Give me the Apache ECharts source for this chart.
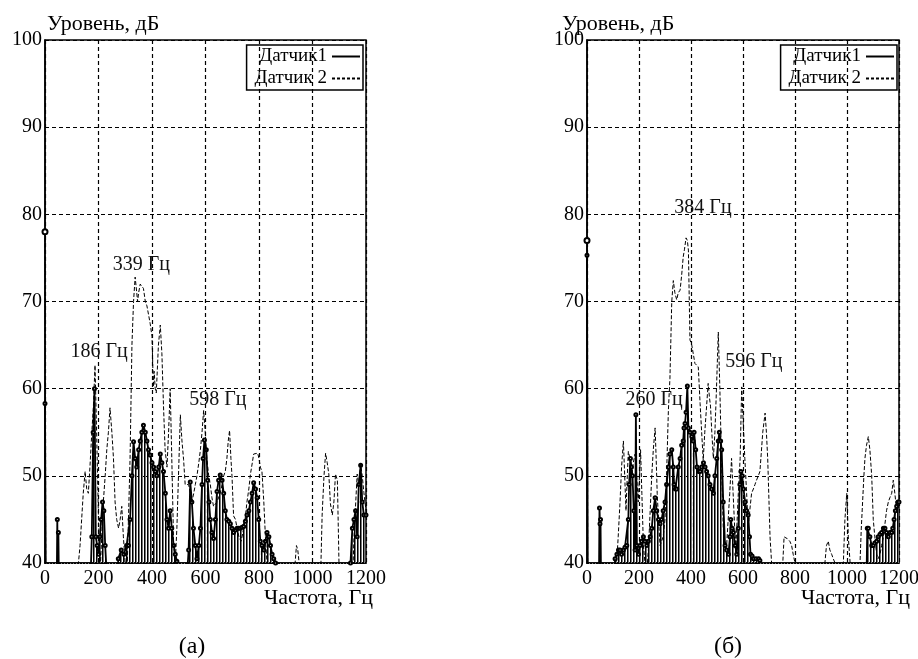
<!DOCTYPE html>
<html>
<head>
<meta charset="utf-8">
<script src="https://cdn.jsdelivr.net/npm/echarts@6/dist/echarts.min.js"></script>
<style>
  html, body { margin: 0; padding: 0; background: #fff; }
  #chart { width: 918px; height: 659px; }
</style>
</head>
<body>
<div id="chart"></div>
<script>
// (а) Датчик1 — сплошная линия со штриховкой
const freqA1 = [0, 3, 44, 46, 48, 50, 52, 170, 175, 180, 185, 190, 195, 200, 205, 210, 215, 220, 225, 232,
  270, 274, 285, 295, 305, 312, 318, 325, 331, 337, 343, 350, 356, 362, 368, 375, 381, 387, 393, 400,
  406, 412, 418, 425, 431, 437, 443, 450, 456, 462, 468, 474, 481, 487, 493, 499, 530, 537, 543, 549,
  555, 562, 568, 575, 581, 587, 591, 596, 603, 608, 613, 618, 624, 630, 637, 643, 649, 655, 662, 668,
  674, 680, 687, 693, 699, 705, 712, 718, 724, 730, 737, 743, 749, 755, 762, 768, 774, 780, 787, 793,
  799, 805, 811, 818, 824, 830, 837, 843, 849, 855, 862, 868, 1138, 1142, 1149, 1155, 1161, 1167, 1173, 1180,
  1186, 1192, 1200];
const levelA1 = [58.3, 38, 38, 45, 38, 43.5, 38, 38, 43, 55, 60, 43, 42, 41, 43, 45, 47, 46, 42, 38,
  38, 40.5, 41.5, 41, 42, 42, 45, 50, 53.9, 52, 51, 53, 54, 55, 55.8, 55, 54, 53, 52.4, 51.5,
  51, 50.5, 50, 51, 52.5, 51.5, 50.5, 48, 45, 44, 46, 44, 42, 41, 40.2, 38, 38, 41.5, 49.3, 47,
  44, 42, 40.5, 42, 44, 49, 52, 54.1, 53, 49.5, 47, 45, 43.5, 42.8, 45, 48.2, 49.5, 50.1, 49.5, 48,
  46, 45, 44.8, 44.5, 44, 43.5, 43.8, 44, 44, 44, 44.1, 44.2, 44.8, 45.5, 46, 47, 48, 49.2, 48.5, 47.5,
  45, 42.5, 42, 41.5, 42.5, 43.5, 43, 42, 41, 40.5, 40, 38, 38, 40, 44, 45, 46, 43, 49, 51.2,
  47, 45.5, 45.5];

// (а) Датчик 2 — пунктир
const freqA2 = [0, 3, 120, 125, 131, 137, 143, 150, 156, 162, 168, 175, 181, 187, 193, 200, 206, 212, 218, 225,
  231, 237, 243, 250, 256, 262, 268, 275, 281, 287, 293, 300, 306, 312, 318, 325, 331, 337, 343, 346,
  350, 356, 362, 368, 375, 381, 387, 393, 400, 405, 408, 412, 416, 424, 431, 437, 443, 449, 456, 462,
  468, 474, 481, 487, 493, 499, 506, 512, 518, 524, 530, 537, 543, 549, 556, 562, 568, 575, 581, 587,
  593, 599, 605, 612, 618, 624, 630, 637, 643, 649, 655, 662, 668, 674, 680, 685, 690, 695, 699, 705,
  712, 718, 725, 733, 740, 748, 755, 762, 768, 775, 780, 787, 795, 800, 805, 811, 818, 824, 830, 836,
  930, 935, 940, 945, 950, 955, 1030, 1036, 1043, 1049, 1055, 1061, 1067, 1074, 1080, 1086, 1093, 1099, 1105, 1150,
  1155, 1160, 1167, 1173, 1180, 1186, 1192, 1200];
const levelA2 = [78, 30, 38, 40, 42, 45, 48, 50.5, 48.5, 48, 51, 55, 58, 62.7, 55, 45, 39, 43, 47, 50,
  53, 55, 57.8, 55, 52, 47, 45, 44, 45, 46.5, 43, 40, 38, 45, 52, 65, 70, 72.8, 71, 70,
  71, 72, 72.1, 71.5, 70, 69.5, 68.5, 67.5, 66, 60.2, 62, 60, 59.5, 65, 67.3, 64, 58, 53, 51, 55,
  60, 52, 42, 40, 44, 50, 57, 54, 51.9, 49, 48.9, 49, 48, 47, 48, 49, 50, 51.5, 53, 55,
  57.5, 55, 52, 50, 49, 47.5, 46.5, 46.5, 47, 47, 48, 49, 50, 50.5, 52, 54, 55.2, 52, 50, 45.4,
  45, 44, 43, 42.5, 43.5, 45, 47, 48.5, 50.2, 51.5, 52.5, 52.5, 52.6, 52, 51, 50.5, 47, 43, 40, 38,
  38, 40, 42, 41.5, 40, 38, 38, 45.5, 50, 52.6, 51.5, 50.2, 46.8, 45.5, 47, 50.2, 49.5, 40, 38, 38,
  43, 46, 50.2, 49, 51.3, 50, 48.1, 46];

// (б) Датчик1
const freqB1 = [0, 3, 46, 48, 50, 52, 54, 105, 108, 115, 121, 127, 133, 140, 146, 153, 159, 162, 167, 171,
  175, 180, 185, 188, 192, 198, 204, 210, 217, 223, 230, 236, 243, 249, 255, 262, 268, 275, 281, 287,
  293, 300, 306, 313, 319, 326, 332, 335, 340, 345, 351, 358, 364, 370, 373, 377, 381, 386, 390, 396,
  403, 408, 412, 418, 423, 429, 435, 441, 448, 454, 460, 466, 473, 479, 486, 492, 499, 505, 509, 514,
  518, 524, 531, 537, 544, 550, 553, 558, 563, 570, 576, 582, 588, 592, 597, 602, 608, 614, 620, 625,
  629, 635, 640, 650, 660, 665, 670, 1075, 1078, 1082, 1088, 1095, 1101, 1107, 1114, 1120, 1127, 1133, 1140, 1146,
  1152, 1159, 1165, 1172, 1176, 1181, 1186, 1191, 1196, 1200];
const levelB1 = [75.3, 38, 38, 46.3, 44.5, 45, 38, 38, 40.5, 41, 41.5, 41.5, 41, 41.5, 41.8, 42, 45, 49, 52, 51,
  50, 46, 41.5, 57, 42, 41, 42, 42.5, 43, 42.5, 42, 42.5, 43, 44, 46, 47.5, 46, 45, 44.5, 45,
  46, 47, 49, 51, 52.5, 53, 51, 49, 48.5, 48.5, 51, 52, 53.5, 54, 55.5, 56, 57.3, 60.3, 55.5, 55,
  54.5, 54, 55, 53, 51, 50.5, 50.5, 51, 51.5, 51, 50.5, 50, 49, 48.5, 48, 50, 52, 54, 55, 54,
  53, 47, 42, 41.5, 41, 43, 45, 44, 43.5, 42, 41, 44, 49, 50.5, 50, 48.5, 47, 46, 45.5, 43,
  41, 40.8, 40.5, 40.5, 40.5, 40.3, 38, 38, 44, 44, 43, 42, 42, 42.3, 42.5, 43, 43.3, 43.5, 44, 44,
  43.5, 43, 43.5, 43.5, 44, 45, 46, 46.5, 47, 47];

// (б) Датчик 2
const freqB2 = [0, 3, 110, 114, 120, 127, 133, 140, 145, 150, 155, 159, 165, 172, 178, 185, 191, 197, 202, 206,
  211, 217, 223, 230, 237, 243, 249, 255, 262, 266, 270, 275, 281, 287, 293, 300, 306, 313, 319, 326,
  332, 338, 345, 351, 358, 364, 370, 375, 381, 386, 390, 396, 403, 409, 415, 421, 428, 435, 441, 447,
  453, 460, 466, 471, 475, 480, 486, 492, 498, 505, 511, 517, 524, 530, 537, 543, 549, 556, 562, 568,
  573, 576, 582, 589, 595, 601, 607, 614, 620, 626, 633, 640, 646, 652, 659, 665, 670, 676, 685, 690,
  695, 700, 704, 710, 716, 748, 753, 758, 765, 770, 774, 780, 787, 793, 800, 806, 908, 915, 921, 928,
  934, 941, 947, 954, 960, 980, 986, 992, 999, 1005, 1012, 1018, 1040, 1050, 1055, 1060, 1065, 1069, 1075, 1082,
  1088, 1095, 1101, 1107, 1114, 1120, 1127, 1133, 1140, 1146, 1152, 1159, 1165, 1172, 1178, 1184, 1191, 1196, 1200];
const levelB2 = [77, 30, 38, 40, 43, 47, 51, 54, 50, 46, 50, 52.8, 52, 50, 51.5, 52.5, 50, 47, 50, 53,
  48, 42, 40, 39, 42, 46, 50, 53, 55.5, 52, 48, 45, 42, 42, 43, 45, 50, 57.5, 61.2, 70,
  72.4, 71, 70.2, 71, 71.3, 73, 75.1, 76, 77.3, 77, 75.9, 65.6, 65, 65.2, 62.9, 62.7, 62.5, 58.3, 55, 51.8,
  55, 58, 60.6, 59, 58, 55, 52, 55, 60, 66.5, 60, 52, 44, 42.5, 42, 45, 48, 52, 48, 44,
  42, 44, 48, 52, 60.2, 56, 52, 48, 44, 46, 48, 48.5, 49, 49.5, 50, 50.5, 52.5, 55, 57.2, 55,
  52, 47, 43, 40, 38, 38, 40, 43, 43.2, 42.8, 43, 42.5, 42, 41, 40, 38, 38, 40, 42, 42.5,
  41.5, 41, 40.5, 40, 38, 38, 40, 45, 48, 43, 40, 38, 38, 40, 44, 47, 50, 52, 53.5, 54.5,
  53, 50, 45, 43, 41, 40.5, 41, 42, 43, 44.5, 46, 47, 47.5, 48, 49.5, 48, 46, 46.5, 46.7];

// подписи пиков
const peakTextA = ['186 Гц', '339 Гц', '598 Гц'];
const peakFreqA = [202, 360, 646];
const peakLevelA = [64.2, 74.2, 58.7];
const peakTextB = ['260 Гц', '384 Гц', '596 Гц'];
const peakFreqB = [258, 446, 642];
const peakLevelB = [58.7, 80.8, 63.1];

const serif = 'Liberation Serif';

const pairs = (f, v) => f.map((x, i) => [x, v[i]]);

// штриховка под кривой датчика 1
const hatch = document.createElement('canvas');
hatch.width = 3;
hatch.height = 4;
const hctx = hatch.getContext('2d');
hctx.fillStyle = '#000';
hctx.fillRect(0, 0, 1, 4);
hctx.fillStyle = '#777';
hctx.fillRect(1, 0, 1, 4);

const dashIcon = 'path://M0,0h3v2h-3zM5,0h3v2h-3zM10,0h3v2h-3zM15,0h3v2h-3zM20,0h3v2h-3zM25,0h3v2h-3z';

const makeGrid = (left, width) => ({
  left: left, top: 40, width: width, height: 523,
  containLabel: false, outerBoundsMode: 'none',
  show: true, borderColor: '#000', borderWidth: 1.5,
});

const makeX = (i) => ({
  gridIndex: i, type: 'value', min: 0, max: 1200, interval: 200,
  axisLine: { lineStyle: { color: '#000', width: 1.5 } },
  axisTick: { show: false },
  splitLine: { show: true, lineStyle: { color: '#000', type: [4, 3], width: 1.2 } },
  axisLabel: { fontFamily: serif, fontSize: 20, color: '#000', margin: 6, formatter: (v) => String(v) },
});

const makeY = (i) => ({
  gridIndex: i, type: 'value', min: 40, max: 100, interval: 10,
  axisLine: { show: true, lineStyle: { color: '#000', width: 1.5 } },
  axisTick: { show: false },
  splitLine: { show: true, lineStyle: { color: '#000', type: [4, 3], width: 1.2 } },
  axisLabel: { fontFamily: serif, fontSize: 20, color: '#000', margin: 3 },
});

const makeSolid = (i, f, v) => ({
  name: 'Датчик1', type: 'line', xAxisIndex: i, yAxisIndex: i,
  data: pairs(f, v),
  symbol: 'emptyCircle', symbolSize: 3, showSymbol: true,
  lineStyle: { color: '#000', width: 1.8 },
  itemStyle: { color: '#000', borderWidth: 1 },
  areaStyle: { origin: 'start', opacity: 1, color: { image: hatch, repeat: 'repeat' } },
  z: 3,
});

const makeDashed = (i, f, v, texts, px, py) => {
  const data = pairs(f, v);
  data[0] = { value: data[0], symbol: 'emptyCircle', symbolSize: 5 };
  return {
    name: 'Датчик 2', type: 'line', xAxisIndex: i, yAxisIndex: i,
    data: data,
    symbol: 'none', showSymbol: true,
    lineStyle: { color: '#000', width: 1, type: [4, 2] },
    itemStyle: { color: '#000' },
    z: 4,
    markPoint: {
      symbol: 'circle', symbolSize: 0,
      label: { show: true, position: 'inside', formatter: '{b}', fontFamily: serif, fontSize: 20, color: '#111' },
      data: texts.map((t, k) => ({ name: t, coord: [px[k], py[k]] })),
    },
  };
};

const makeLegend = (right) => ({
  data: [{ name: 'Датчик1', icon: 'rect' }, { name: 'Датчик 2', icon: dashIcon }],
  orient: 'vertical', align: 'right', right: right, top: 45,
  itemWidth: 28, itemHeight: 2, itemGap: 3,
  padding: [2, 3, 2, 8],
  borderColor: '#000', borderWidth: 1.5,
  selectedMode: false,
  textStyle: { fontFamily: serif, fontSize: 19, color: '#000' },
});

const chart = echarts.init(document.getElementById('chart'));
chart.setOption({
  animation: false,
  backgroundColor: '#fff',
  grid: [makeGrid(45, 321), makeGrid(587, 312)],
  xAxis: [makeX(0), makeX(1)],
  yAxis: [makeY(0), makeY(1)],
  legend: [makeLegend(555), makeLegend(21)],
  series: [
    makeSolid(0, freqA1, levelA1),
    makeDashed(0, freqA2, levelA2, peakTextA, peakFreqA, peakLevelA),
    makeSolid(1, freqB1, levelB1),
    makeDashed(1, freqB2, levelB2, peakTextB, peakFreqB, peakLevelB),
  ],
  graphic: [
    { type: 'text', left: 47, top: 13, style: { text: 'Уровень, дБ', font: '22px "Liberation Serif"', fill: '#000' } },
    { type: 'text', left: 562, top: 13, style: { text: 'Уровень, дБ', font: '22px "Liberation Serif"', fill: '#000' } },
    { type: 'text', x: 373, y: 598, style: { text: 'Частота, Гц', font: '22px "Liberation Serif"', fill: '#000', align: 'right', verticalAlign: 'middle' } },
    { type: 'text', x: 910, y: 598, style: { text: 'Частота, Гц', font: '22px "Liberation Serif"', fill: '#000', align: 'right', verticalAlign: 'middle' } },
    { type: 'text', x: 192, y: 647, style: { text: '(а)', font: '24px "Liberation Serif"', fill: '#000', align: 'center', verticalAlign: 'middle' } },
    { type: 'text', x: 728, y: 647, style: { text: '(б)', font: '24px "Liberation Serif"', fill: '#000', align: 'center', verticalAlign: 'middle' } },
  ],
});
</script>
</body>
</html>
